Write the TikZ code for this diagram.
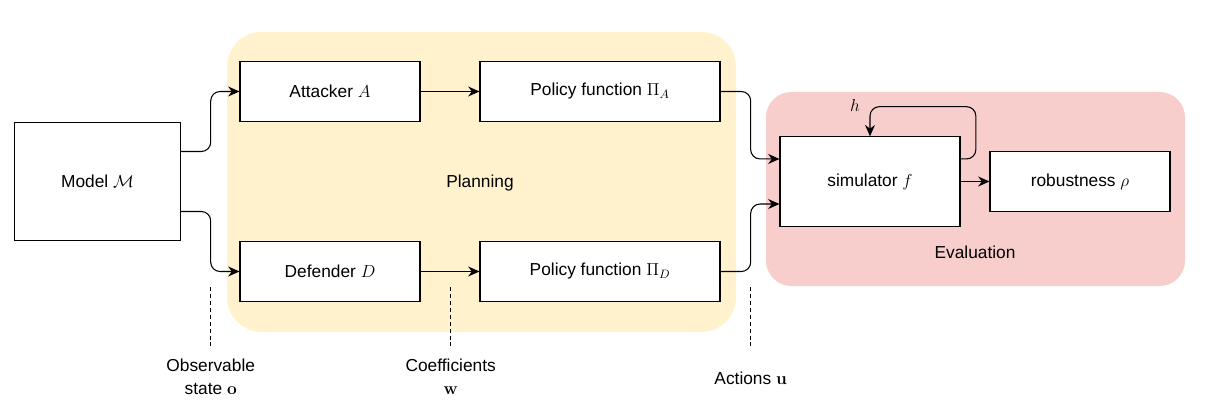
\RequirePackage{fix-cm}
\documentclass[tikz,border=0pt]{standalone}
\usepackage[no-math]{fontspec}
\setmainfont{Liberation Sans}
\usepackage{amsmath}
\usetikzlibrary{arrows.meta}

\definecolor{planfill}{HTML}{FFF2CC}
\definecolor{evalfill}{HTML}{F8CECC}

\tikzset{
    box/.style={draw, fill=white, line width=0.8pt, inner sep=0pt, minimum width=135pt, minimum height=45pt},
    flow/.style={-{Stealth[length=8.5pt, width=7.5pt]}, line width=0.8pt, rounded corners=7pt},
    guide/.style={dashed, dash pattern=on 3pt off 2.2pt, line width=0.7pt}
}

\begin{document}
\begin{tikzpicture}[x=0.75pt, y=-0.75pt, every node/.style={font=\fontsize{13}{17}\selectfont}]

        \useasboundingbox (0,0) rectangle (1209,420);

        % Regions
        \fill[planfill, rounded corners=26pt] (227,32) rectangle (736,332);
        \fill[evalfill, rounded corners=19pt] (766,92) rectangle (1185,286);
        \node (plan) at (480,183) {Planning};
        \node (eval) at (975,252) {Evaluation};

        % Blocks
        \node[box, minimum width=124pt, minimum height=89pt] (model) at (97.5,181.5) {Model $\mathcal{M}$};
        \node[box] (att) at (330,91.5) {Attacker $A$};
        \node[box] (def) at (330,271.5) {Defender $D$};
        \node[box, minimum width=180pt] (pola) at (600,91.5) {Policy function $\Pi_A$};
        \node[box, minimum width=180pt] (pold) at (600,271.5) {Policy function $\Pi_D$};
        \node[box, minimum height=67pt] (sim) at (870,181.5) {simulator $f$};
        \node[box] (rob) at (1080,181.5) {robustness $\rho$};

        % Points where the dashed guides start
        \coordinate (obs) at (210.7,287);
        \coordinate (coef) at (450.7,287);
        \coordinate (act) at (750.7,287);
        \coordinate (simin1) at ([yshift=16.9pt]sim.west);
        \coordinate (simin2) at ([yshift=-16.9pt]sim.west);

        % Connectors
        \draw[flow] ([yshift=22.5pt]model.east) -| (obs |- att.west) -- (att.west);
        \draw[flow] ([yshift=-22.5pt]model.east) -| (obs |- def.west) -- (def.west);
        \draw[flow] (att) -- (pola);
        \draw[flow] (def) -- (pold);
        \draw[flow] (pola.east) -| (act |- simin1) -- (simin1);
        \draw[flow] (pold.east) -| (act |- simin2) -- (simin2);
        \draw[flow] (sim) -- (rob);

        % Feedback h
        \draw[flow] ([yshift=16.9pt]sim.east) -- ++(15.3,0) -- ++(0,-52.3) -| (sim.north);
        \node (hlab) at (855,105) {$h$};

        % Dashed guides and their labels
        \draw[guide] (obs) -- ++(0,60);
        \draw[guide] (coef) -- ++(0,60);
        \draw[guide] (act) -- ++(0,60);
        \node[align=center] (obslab) at (210.7,377) {Observable\\state $\mathbf{o}$};
        \node[align=center] (coeflab) at (450.7,377) {Coefficients\\$\mathbf{w}$};
        \node (actlab) at (750.7,378) {Actions $\mathbf{u}$};

    \end{tikzpicture}
\end{document}
